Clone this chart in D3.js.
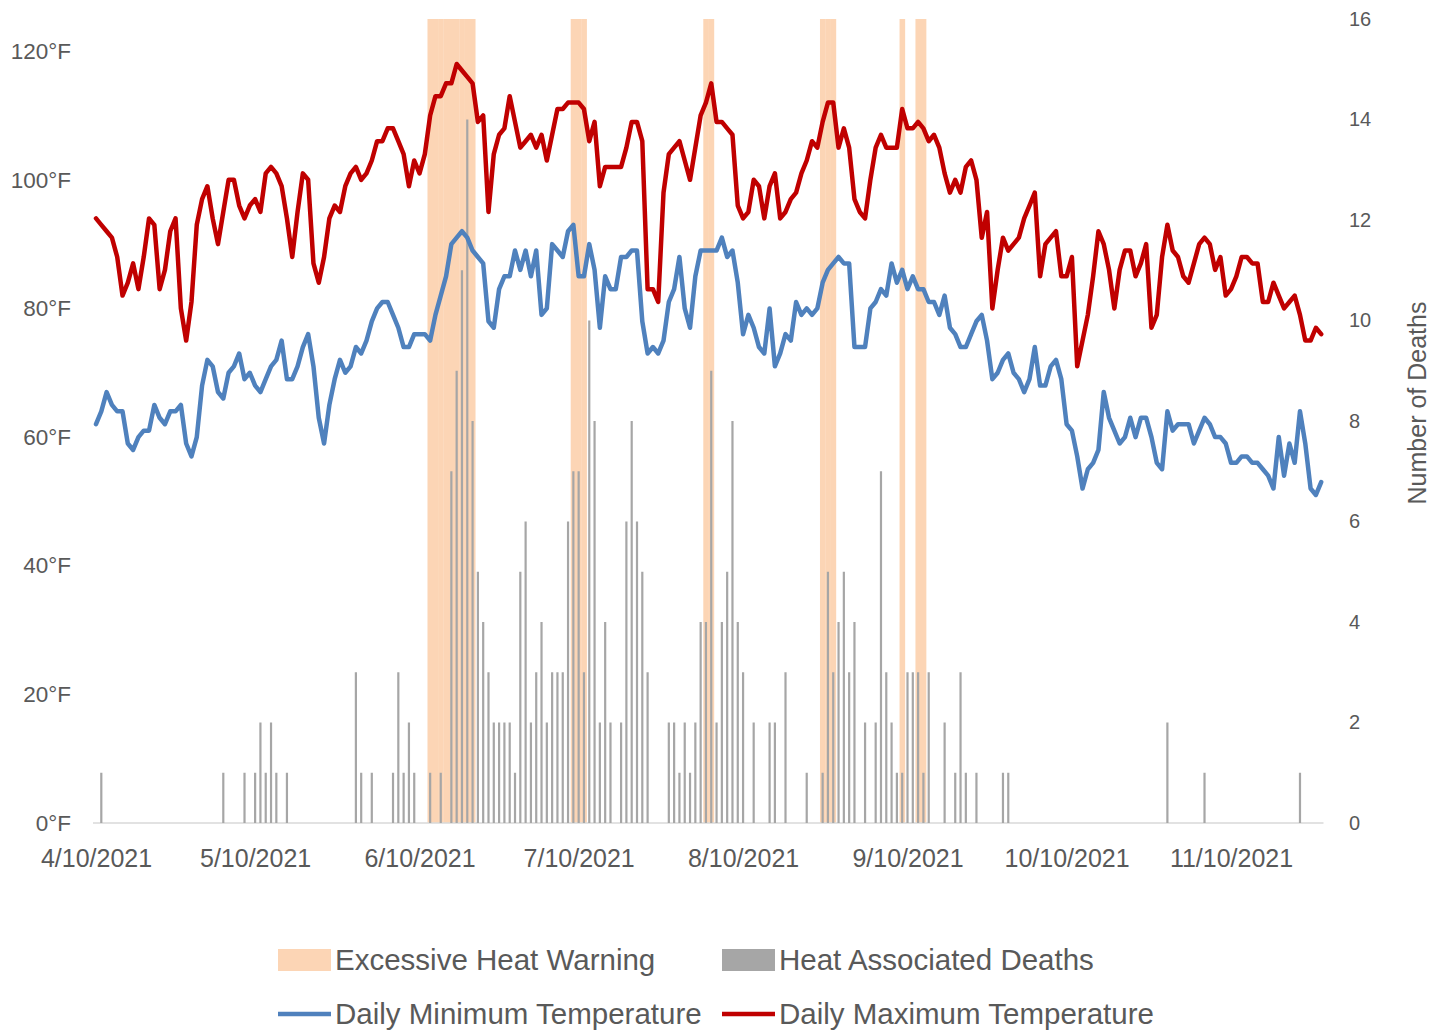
<!DOCTYPE html>
<html><head><meta charset="utf-8">
<script src="https://cdn.jsdelivr.net/npm/d3@7"></script>
<style>
body{margin:0;background:#fff}
svg text{font-family:"Liberation Sans",Arial,sans-serif;fill:#595959}
</style>
</head><body>
<svg id="chart" width="1442" height="1032"></svg>
<script>
const startDate = "2021-04-10";
const maxTemp = [
94,93,92,91,88,82,84,87,83,88,
94,93,83,86,92,94,80,75,81,93,
97,99,94,90,95,100,100,96,94,96,
97,95,101,102,101,99,94,88,95,101,
100,87,84,88,94,96,95,99,101,102,
100,101,103,106,106,108,108,106,104,99,
103,101,104,110,113,113,115,115,118,117,
116,115,109,110,95,104,107,108,113,109,
105,106,107,105,107,103,107,111,111,112,
112,112,111,106,109,99,102,102,102,102,
105,109,109,106,83,83,81,98,104,105,
106,103,100,105,110,112,115,109,109,108,
107,96,94,95,100,99,94,99,101,94,
95,97,98,101,103,106,105,109,112,112,
105,108,105,97,95,94,100,105,107,105,
105,105,111,108,108,109,108,106,107,105,
101,98,100,98,102,103,100,91,95,80,
86,91,89,90,91,94,96,98,85,90,
91,92,85,85,88,71,75,79,85,92,
90,86,80,86,89,89,85,87,90,77,
79,88,93,89,88,85,84,87,90,91,
90,86,88,82,83,85,88,88,87,87,
81,81,84,82,80,81,82,79,75,75,
77,76];
const minTemp = [
62,64,67,65,64,64,59,58,60,61,
61,65,63,62,64,64,65,59,57,60,
68,72,71,67,66,70,71,73,69,70,
68,67,69,71,72,75,69,69,71,74,
76,71,63,59,65,69,72,70,71,74,
73,75,78,80,81,81,79,77,74,74,
76,76,76,75,79,82,85,90,91,92,
91,89,88,87,78,77,83,85,85,89,
86,89,85,89,79,80,90,89,88,92,
93,85,85,90,86,77,85,83,83,88,
88,89,89,78,73,74,73,75,81,83,
88,80,77,85,89,89,89,89,91,88,
89,84,76,79,77,74,73,80,71,73,
76,75,81,79,80,79,80,84,86,87,
88,87,87,74,74,74,80,81,83,82,
87,84,86,83,85,83,83,81,81,79,
82,77,76,74,74,76,78,79,75,69,
70,72,73,70,69,67,69,74,68,68,
71,72,69,62,61,57,52,55,56,58,
67,63,61,59,60,63,60,63,63,60,
56,55,64,61,62,62,62,59,61,63,
62,60,60,59,56,56,57,57,56,56,
55,54,52,60,54,59,56,64,59,52,
51,53];
const deaths = [
0,1,0,0,0,0,0,0,0,0,
0,0,0,0,0,0,0,0,0,0,
0,0,0,0,1,0,0,0,1,0,
1,2,1,2,1,0,1,0,0,0,
0,0,0,0,0,0,0,0,0,3,
1,0,1,0,0,0,1,3,1,2,
1,0,0,1,0,1,0,7,9,11,
14,8,5,4,3,2,2,2,2,1,
5,6,2,3,4,2,3,3,3,6,
7,7,3,10,8,2,4,2,0,2,
6,8,6,5,3,0,0,0,2,2,
1,2,1,2,4,4,9,2,4,5,
8,4,3,0,2,0,0,2,2,0,
3,0,0,0,1,0,0,1,5,3,
4,5,3,4,0,2,0,2,7,3,
2,1,1,3,3,3,1,3,0,0,
2,0,1,3,1,0,1,0,0,0,
0,1,1,0,0,0,0,0,0,0,
0,0,0,0,0,0,0,0,0,0,
0,0,0,0,0,0,0,0,0,0,
0,0,2,0,0,0,0,0,0,1,
0,0,0,0,0,0,0,0,0,0,
0,0,0,0,0,0,0,1,0,0,
0,0];
const warningDates = ["2021-06-12","2021-06-13","2021-06-14","2021-06-15","2021-06-16","2021-06-17","2021-06-18","2021-06-19","2021-06-20",
  "2021-07-09","2021-07-10","2021-07-11","2021-08-03","2021-08-04","2021-08-25","2021-08-26","2021-08-27",
  "2021-09-09","2021-09-12","2021-09-13"];
const dateTicks = ["2021-04-10","2021-05-10","2021-06-10","2021-07-10","2021-08-10","2021-09-10","2021-10-10","2021-11-10"];
const tempTicks = [0,20,40,60,80,100,120];
const deathTicks = [0,2,4,6,8,10,12,14,16];
const legendItems = [
  {label:"Excessive Heat Warning", kind:"rect", color:"#FCD5B5"},
  {label:"Heat Associated Deaths", kind:"rect", color:"#A6A6A6"},
  {label:"Daily Minimum Temperature", kind:"line", color:"#4F81BD"},
  {label:"Daily Maximum Temperature", kind:"line", color:"#C00000"}
];

const parse = d3.utcParse("%Y-%m-%d");
const start = parse(startDate);
const dayOf = i => d3.utcDay.offset(start, i);
const svg = d3.select("#chart");

const L = 96, R = 1321.2, T = 19, B = 823;
const x = d3.scaleUtc().domain([start, dayOf(maxTemp.length - 1)]).range([L, R]);
const yT = d3.scaleLinear().domain([0,125]).range([B,T]);
const yD = d3.scaleLinear().domain([0,16]).range([B,T]);
const dayW = x(dayOf(1)) - x(start);

// warnings
svg.append("g").selectAll("rect").data(warningDates.map(parse)).join("rect")
  .attr("x", d => x(d) - dayW/2).attr("width", dayW + 0.3)
  .attr("y", T).attr("height", B - T).attr("fill", "#FCD5B5");

// axis line
svg.append("line").attr("x1", 93).attr("x2", 1323.5).attr("y1", B).attr("y2", B)
  .attr("stroke", "#D9D9D9").attr("stroke-width", 1.5);

// deaths bars
const bw = 2.2;
svg.append("g").selectAll("rect").data(deaths.map((v,i)=>({d:dayOf(i), v})).filter(o=>o.v>0)).join("rect")
  .attr("x", o => x(o.d) - bw/2).attr("width", bw)
  .attr("y", o => yD(o.v)).attr("height", o => B - yD(o.v))
  .attr("fill", "#A6A6A6");

// lines
const line = d3.line().x((v,i)=>x(dayOf(i))).y(v=>yT(v));
svg.append("path").datum(minTemp).attr("d", line).attr("fill","none")
  .attr("stroke","#4F81BD").attr("stroke-width",4.5).attr("stroke-linejoin","round").attr("stroke-linecap","round");
svg.append("path").datum(maxTemp).attr("d", line).attr("fill","none")
  .attr("stroke","#C00000").attr("stroke-width",4.5).attr("stroke-linejoin","round").attr("stroke-linecap","round");

// axes
const xAxis = d3.axisBottom(x).tickValues(dateTicks.map(parse)).tickSize(0).tickPadding(26)
  .tickFormat(d3.utcFormat("%-m/%-d/%Y"));
const gx = svg.append("g").attr("transform", `translate(0,${B})`).call(xAxis);
gx.select(".domain").remove();
gx.selectAll("text").attr("font-size", 25).style("fill","#595959");

const gl = svg.append("g").attr("transform", `translate(${L},0)`)
  .call(d3.axisLeft(yT).tickValues(tempTicks).tickSize(0).tickPadding(25).tickFormat(d => d + "°F"));
gl.select(".domain").remove();
gl.selectAll("text").attr("font-size", 22.5).style("fill","#595959");

const gr = svg.append("g").attr("transform", `translate(1323,0)`)
  .call(d3.axisRight(yD).tickValues(deathTicks).tickSize(0).tickPadding(26));
gr.select(".domain").remove();
gr.selectAll("text").attr("font-size", 20).style("fill","#595959");

svg.append("text").attr("transform", "translate(1426,403) rotate(-90)")
  .attr("text-anchor","middle").attr("font-size", 25).text("Number of Deaths");

// legend
const legPos = [[278,960],[722,960],[278,1014],[722,1014]];
const lg = svg.append("g").selectAll("g").data(legendItems).join("g")
  .attr("transform", (d,i)=>`translate(${legPos[i][0]},${legPos[i][1]})`);
lg.filter(d=>d.kind==="rect").append("rect").attr("x",0).attr("y",-11).attr("width",53).attr("height",22).attr("fill",d=>d.color);
lg.filter(d=>d.kind==="line").append("line").attr("x1",0).attr("x2",53).attr("y1",0).attr("y2",0)
  .attr("stroke",d=>d.color).attr("stroke-width",4.5);
lg.append("text").attr("x",57).attr("y",0).attr("dy","0.35em").attr("font-size",29.5).text(d=>d.label);
</script>
</body></html>
